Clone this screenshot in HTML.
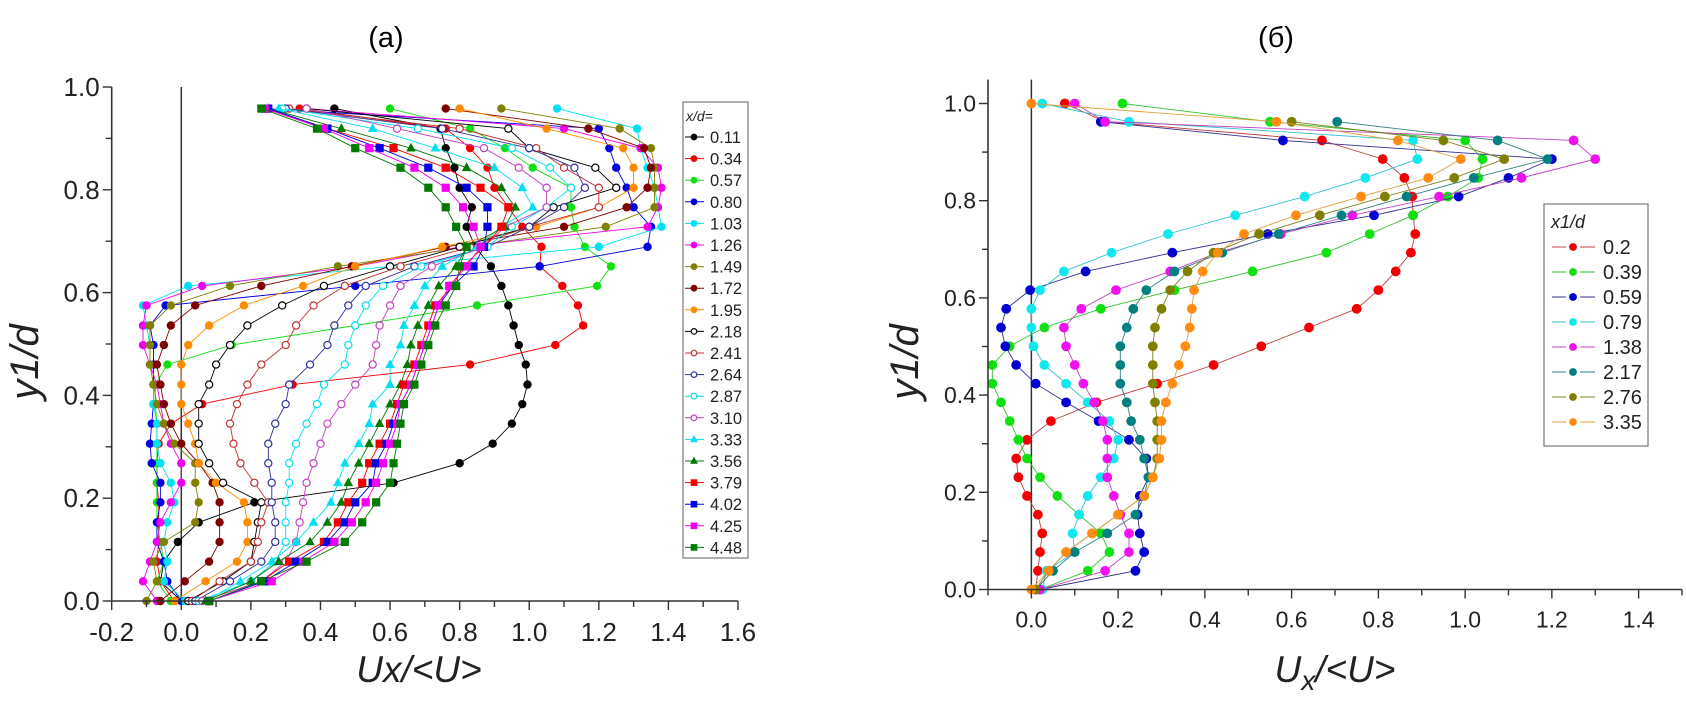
<!DOCTYPE html>
<html><head><meta charset="utf-8">
<style>
html,body{margin:0;padding:0;background:#fff;}
svg{display:block;font-family:"Liberation Sans","DejaVu Sans",sans-serif;}
</style></head>
<body>
<svg id="fig" width="1686" height="703" viewBox="0 0 1686 703" xmlns="http://www.w3.org/2000/svg">
<rect width="1686" height="703" fill="#fff"/>
<text x="386" y="47" font-size="29" text-anchor="middle">(a)</text>
<text x="1276" y="47" font-size="29" text-anchor="middle">(б)</text>
<g id="pa"></g>
<g id="pb"></g>
</svg>
<script>
// ---------- Chart A data ----------
const levelsA = [0,0.0383,0.0766,0.115,0.153,0.192,0.230,0.268,0.306,0.345,0.383,0.421,0.460,0.498,0.536,0.575,0.613,0.651,0.689,0.728,0.766,0.804,0.843,0.881,0.919,0.958];
const seriesNamesA = ["0.11","0.34","0.57","0.80","1.03","1.26","1.49","1.72","1.95","2.18","2.41","2.64","2.87","3.10","3.33","3.56","3.79","4.02","4.25","4.48"];
const s011 = [0.0,-0.06,-0.05,-0.01,0.05,0.21,0.61,0.80,0.895,0.95,0.98,0.995,0.99,0.97,0.955,0.94,0.92,0.89,0.845,0.82,0.835,0.80,0.785,0.76,0.745,0.44];
const s034 = [-0.02,-0.06,-0.07,-0.065,-0.065,-0.065,-0.07,-0.07,-0.065,-0.03,0.06,0.32,0.83,1.075,1.155,1.14,1.095,1.03,1.035,0.98,0.94,0.90,0.88,0.83,0.76,0.34];
const s057 = [-0.03,-0.07,-0.05,-0.06,-0.07,-0.07,-0.07,-0.07,-0.07,-0.07,-0.075,-0.075,-0.04,0.145,0.5,0.85,1.195,1.235,1.16,1.13,1.12,1.12,1.01,0.93,0.83,0.6];
const s080 = [0.0,-0.04,-0.05,-0.07,-0.07,-0.06,-0.06,-0.085,-0.09,-0.085,-0.08,-0.08,-0.08,-0.08,-0.09,-0.045,0.5,1.03,1.34,1.35,1.30,1.28,1.25,1.23,1.2,0.24];
const s103 = [0.01,-0.05,-0.04,-0.05,-0.04,-0.02,-0.03,-0.06,-0.07,-0.07,-0.08,-0.08,-0.09,-0.09,-0.1,-0.11,0.02,0.6,1.2,1.38,1.37,1.36,1.34,1.32,1.31,1.08];
const s126 = [-0.07,-0.11,-0.09,-0.07,-0.06,-0.03,0.0,0.0,-0.03,-0.05,-0.06,-0.07,-0.09,-0.11,-0.11,-0.1,0.06,0.5,0.8,1.34,1.37,1.38,1.37,1.32,1.1,0.36];
const s149 = [-0.1,-0.07,-0.08,-0.05,0.04,0.05,0.04,0.04,-0.02,-0.05,-0.07,-0.08,-0.09,-0.09,-0.09,-0.03,0.14,0.45,0.82,1.22,1.36,1.36,1.36,1.35,1.26,0.92];
const s172 = [-0.06,0.01,0.08,0.11,0.11,0.11,0.09,0.05,0.0,-0.03,-0.05,-0.06,-0.07,-0.05,-0.03,0.04,0.23,0.49,0.76,1.1,1.28,1.34,1.35,1.33,1.17,0.76];
const s195 = [-0.02,0.07,0.16,0.19,0.19,0.18,0.1,0.05,0.04,0.02,0.0,0.0,0.0,0.02,0.08,0.18,0.35,0.5,0.75,1.02,1.2,1.3,1.3,1.27,1.05,0.8];
const s218 = [0.02,0.12,0.2,0.21,0.22,0.23,0.12,0.08,0.05,0.05,0.05,0.08,0.1,0.14,0.19,0.29,0.41,0.6,0.8,1.0,1.07,1.25,1.19,1.0,0.94,0.36];
const s241 = [0.03,0.11,0.2,0.22,0.23,0.25,0.21,0.17,0.15,0.14,0.16,0.19,0.23,0.3,0.33,0.38,0.47,0.63,0.83,1.0,1.2,1.2,1.1,1.02,0.8,0.31];
const s264 = [0.04,0.14,0.23,0.27,0.27,0.26,0.26,0.25,0.25,0.27,0.3,0.31,0.37,0.42,0.44,0.48,0.53,0.67,0.88,1.0,1.1,1.16,1.13,1.0,0.75,0.3];
const s287 = [0.05,0.2,0.27,0.3,0.3,0.3,0.31,0.31,0.33,0.36,0.39,0.41,0.47,0.48,0.5,0.53,0.58,0.69,0.88,0.95,1.05,1.12,1.06,0.95,0.68,0.29];
const s310 = [0.06,0.23,0.3,0.33,0.34,0.35,0.36,0.38,0.4,0.42,0.46,0.5,0.55,0.56,0.57,0.6,0.63,0.72,0.87,0.93,1.05,1.05,0.97,0.87,0.62,0.36];
const s333 = [0.07,0.17,0.26,0.33,0.38,0.43,0.45,0.47,0.51,0.54,0.55,0.6,0.6,0.63,0.64,0.67,0.7,0.75,0.85,0.92,1.01,0.98,0.9,0.73,0.55,0.28];
const s356 = [0.07,0.2,0.28,0.37,0.42,0.46,0.48,0.51,0.54,0.57,0.6,0.63,0.65,0.66,0.68,0.71,0.74,0.79,0.82,0.93,0.96,0.92,0.82,0.66,0.46,0.25];
const s379 = [0.08,0.23,0.31,0.41,0.45,0.48,0.52,0.54,0.57,0.6,0.62,0.64,0.67,0.69,0.71,0.73,0.78,0.81,0.87,0.92,0.94,0.86,0.76,0.61,0.42,0.24];
const s402 = [0.08,0.24,0.33,0.42,0.47,0.5,0.55,0.56,0.59,0.61,0.63,0.66,0.68,0.7,0.72,0.74,0.78,0.84,0.87,0.88,0.88,0.82,0.71,0.57,0.42,0.25];
const s425 = [0.08,0.26,0.35,0.44,0.49,0.53,0.56,0.58,0.6,0.62,0.63,0.66,0.68,0.7,0.72,0.74,0.77,0.82,0.86,0.84,0.81,0.76,0.67,0.54,0.41,0.24];
const s448 = [0.08,0.23,0.36,0.47,0.52,0.56,0.6,0.61,0.62,0.63,0.64,0.67,0.69,0.71,0.73,0.76,0.79,0.8,0.82,0.79,0.76,0.71,0.63,0.5,0.39,0.23];
const xTicksA = ["-0.2","0.0","0.2","0.4","0.6","0.8","1.0","1.2","1.4","1.6"];
const yTicksA = ["0.0","0.2","0.4","0.6","0.8","1.0"];

// ---------- Chart B data ----------
const levelsB = [0,0.0385,0.077,0.1155,0.154,0.1925,0.231,0.2695,0.308,0.3465,0.385,0.4235,0.462,0.5005,0.539,0.5775,0.616,0.6545,0.693,0.7315,0.770,0.8085,0.847,0.8855,0.924,0.9625,1.0];
const seriesNamesB = ["0.2","0.39","0.59","0.79","1.38","2.17","2.76","3.35"];
const b020 = [0.01,0.015,0.02,0.025,0.015,-0.01,-0.03,-0.035,-0.01,0.045,0.15,0.29,0.42,0.53,0.64,0.75,0.8,0.84,0.875,0.885,0.88,0.878,0.86,0.81,0.67,0.17,0.077];
const b039 = [0.02,0.13,0.18,0.16,0.11,0.06,0.02,-0.01,-0.03,-0.05,-0.07,-0.09,-0.09,-0.05,0.03,0.16,0.33,0.51,0.68,0.78,0.88,0.96,1.03,1.04,1.0,0.55,0.21];
const b059 = [0.02,0.24,0.26,0.25,0.245,0.25,0.27,0.265,0.225,0.155,0.08,0.01,-0.035,-0.06,-0.07,-0.058,-0.003,0.125,0.325,0.545,0.79,0.985,1.1,1.2,0.58,0.16,null];
const b079 = [0.025,0.035,0.1,0.095,0.11,0.13,0.16,0.19,0.2,0.18,0.13,0.08,0.03,0.005,0.0,0.0,0.02,0.075,0.185,0.315,0.47,0.63,0.77,0.89,0.88,0.225,0.025];
const b138 = [0.02,0.17,0.225,0.225,0.205,0.19,0.175,0.175,0.175,0.165,0.145,0.12,0.1,0.08,0.075,0.115,0.195,0.32,0.43,0.575,0.74,0.94,1.13,1.3,1.25,0.17,0.1];
const b217 = [0.01,0.05,0.1,0.175,0.24,0.26,0.27,0.26,0.25,0.23,0.22,0.205,0.205,0.205,0.22,0.235,0.265,0.33,0.44,0.57,0.715,0.865,1.02,1.19,1.075,0.705,null];
const b276 = [0.01,0.04,0.08,0.14,0.2,0.26,0.28,0.29,0.29,0.29,0.285,0.28,0.28,0.28,0.285,0.3,0.32,0.36,0.42,0.525,0.665,0.815,0.975,1.09,0.95,0.6,null];
const b335 = [0.0,0.04,0.08,0.14,0.2,0.26,0.28,0.295,0.3,0.3,0.31,0.325,0.34,0.355,0.365,0.37,0.375,0.395,0.43,0.49,0.61,0.76,0.915,0.99,0.845,0.565,0.0];
const xTicksB = ["0.0","0.2","0.4","0.6","0.8","1.0","1.2","1.4"];
const yTicksB = ["0.0","0.2","0.4","0.6","0.8","1.0"];

const NS = "http://www.w3.org/2000/svg";
function mk(tag, parent, attrs){const e=document.createElementNS(NS,tag);for(const k in attrs)e.setAttribute(k,attrs[k]);parent.appendChild(e);return e;}

function drawMarker(g, shape, color, filled, cx, cy, r){
  let m;
  const fill = filled ? color : "#fff";
  if(shape==="circle"){m=mk("circle",g,{cx:cx,cy:cy,r:r,fill:fill,stroke:color,"stroke-width":1.2});}
  else if(shape==="square"){m=mk("rect",g,{x:cx-r,y:cy-r,width:2*r,height:2*r,fill:fill,stroke:color,"stroke-width":1});}
  else {m=mk("polygon",g,{points:(cx)+","+(cy-r*1.2)+" "+(cx-r*1.1)+","+(cy+r*0.8)+" "+(cx+r*1.1)+","+(cy+r*0.8),fill:fill,stroke:color,"stroke-width":1});}
  
  
}

// ---------- Chart A ----------
(function(){
  const g=document.getElementById('pa');
  const X0=111.7, X1=738, xmin=-0.2, xmax=1.6, Y0=601, Y1=87;
  const sx=v=>X0+(v-xmin)/(xmax-xmin)*(X1-X0);
  const sy=v=>Y0-v*(Y0-Y1);
  const data=[s011,s034,s057,s080,s103,s126,s149,s172,s195,s218,s241,s264,s287,s310,s333,s356,s379,s402,s425,s448];
  const colors=["#000","#f00000","#10e010","#0000e0","#00e0f0","#f000f0","#808000","#800000","#ff8c00","#000","#c03030","#3030a0","#00e0f0","#c040c0","#00e0f0","#007a00","#f00000","#0000e0","#f000f0","#007a00"];
  const shapes=["circle","circle","circle","circle","circle","circle","circle","circle","circle","circle","circle","circle","circle","circle","tri","tri","square","square","square","square"];
  const filled=[1,1,1,1,1,1,1,1,1,0,0,0,0,0,1,1,1,1,1,1];
  // zero line
  const zl=mk("line",g,{x1:sx(0),x2:sx(0),y1:Y1,y2:Y0,stroke:"#333","stroke-width":1.5});
   
  data.forEach((arr,i)=>{
    const sg=mk("g",g,{});
    
    
    const pts=arr.map((v,k)=>sx(v).toFixed(1)+","+sy(levelsA[k]).toFixed(1)).join(" ");
    const pl=mk("polyline",sg,{points:pts,fill:"none",stroke:colors[i],"stroke-width":0.9});
    
    
    arr.forEach((v,k)=>drawMarker(sg,shapes[i],colors[i],filled[i],sx(v),sy(levelsA[k]),3.6));
  });
  // axes
  const ax=mk("g",g,{});
   
  mk("line",ax,{x1:X0,x2:X1,y1:Y0,y2:Y0,stroke:"#333","stroke-width":1.6});
  mk("line",ax,{x1:X0,x2:X0,y1:Y1,y2:Y0,stroke:"#333","stroke-width":1.6});
  for(let i=0;i<=18;i++){const v=xmin+i*0.1;mk("line",ax,{x1:sx(v),x2:sx(v),y1:Y0,y2:Y0+(i%2===0?9:6),stroke:"#333","stroke-width":1.4});}
  xTicksA.forEach((t,i)=>{const tx=mk("text",ax,{x:sx(-0.2+i*0.2),y:Y0+40,"font-size":26,"text-anchor":"middle",fill:"#222"});tx.textContent=t;
     });
  for(let i=0;i<=10;i++){mk("line",ax,{x1:X0,x2:X0-(i%2===0?9:6),y1:sy(i*0.1),y2:sy(i*0.1),stroke:"#333","stroke-width":1.4});}
  yTicksA.forEach((t,i)=>{const tx=mk("text",ax,{x:X0-12,y:sy(i*0.2)+9,"font-size":26,"text-anchor":"end",fill:"#222"});tx.textContent=t;
     });
  const xt=mk("text",g,{x:419,y:682,"font-size":37,"font-style":"italic","text-anchor":"middle",fill:"#222"});xt.textContent="Ux/<U>";
   
  const yt=mk("text",g,{x:0,y:0,"font-size":40,"font-style":"italic","text-anchor":"middle",fill:"#222",transform:"translate(38,362) rotate(-90)"});yt.textContent="y1/d";
   
  // legend
  const lg=mk("g",g,{});
   
  mk("rect",lg,{x:683,y:102,width:65,height:456,fill:"#fff",stroke:"#777","stroke-width":1.2});
  const lt=mk("text",lg,{x:686,y:121,"font-size":14,"font-style":"italic",fill:"#222"});lt.textContent="x/d=";
  seriesNamesA.forEach((n,i)=>{
    const y=137+i*21.6;
    const e=mk("g",lg,{});
     
    mk("line",e,{x1:685,x2:704,y1:y,y2:y,stroke:colors[i],"stroke-width":1});
    drawMarker(e,shapes[i],colors[i],filled[i],694,y,2.8);
    const t=mk("text",e,{x:710,y:y+6,"font-size":16.5,fill:"#222"});t.textContent=n;
  });
})();

// ---------- Chart B ----------
(function(){
  const g=document.getElementById('pb');
  const X0=988, X1=1682, xmin=-0.1, xmax=1.5, Y0=589.5, Ytop=79.6, Yone=103.5;
  const sx=v=>X0+(v-xmin)/(xmax-xmin)*(X1-X0);
  const sy=v=>Y0-v*(Y0-Yone);
  const data=[b020,b039,b059,b079,b138,b217,b276,b335];
  const colors=["#f00000","#10e010","#0000d0","#10e8f0","#f010f0","#008080","#808000","#ff8c10"];
  const lineColors=["#c04040","#30c030","#303090","#30c0d0","#c040c0","#308080","#808020","#e0a040"];
  const zl=mk("line",g,{x1:sx(0),x2:sx(0),y1:Ytop,y2:Y0,stroke:"#333","stroke-width":1.5});
   
  data.forEach((arr,i)=>{
    const sg=mk("g",g,{});
    
    
    const pts=[];arr.forEach((v,k)=>{if(v!==null)pts.push(sx(v).toFixed(1)+","+sy(levelsB[k]).toFixed(1));});
    const pl=mk("polyline",sg,{points:pts.join(" "),fill:"none",stroke:lineColors[i],"stroke-width":0.9});
    
    
    arr.forEach((v,k)=>{if(v!==null)drawMarker(sg,"circle",colors[i],1,sx(v),sy(levelsB[k]),4.3);});
  });
  const ax=mk("g",g,{});
   
  mk("line",ax,{x1:X0,x2:X1,y1:Y0,y2:Y0,stroke:"#333","stroke-width":1.6});
  mk("line",ax,{x1:X0,x2:X0,y1:Ytop,y2:Y0,stroke:"#333","stroke-width":1.6});
  for(let i=0;i<=16;i++){const v=xmin+i*0.1;mk("line",ax,{x1:sx(v),x2:sx(v),y1:Y0,y2:Y0+(i%2===1?9:6),stroke:"#333","stroke-width":1.4});}
  xTicksB.forEach((t,i)=>{const tx=mk("text",ax,{x:sx(i*0.2),y:Y0+38,"font-size":23,"text-anchor":"middle",fill:"#222"});tx.textContent=t;
     });
  for(let i=0;i<=10;i++){mk("line",ax,{x1:X0,x2:X0-(i%2===0?9:6),y1:sy(i*0.1),y2:sy(i*0.1),stroke:"#333","stroke-width":1.4});}
  yTicksB.forEach((t,i)=>{const tx=mk("text",ax,{x:X0-12,y:sy(i*0.2)+8,"font-size":23,"text-anchor":"end",fill:"#222"});tx.textContent=t;
     });
  const xt=mk("text",g,{x:1335,y:682,"font-size":37,"font-style":"italic","text-anchor":"middle",fill:"#222"});
   
  xt.innerHTML='U<tspan font-size="28" dy="8">x</tspan><tspan dy="-8">/&lt;U&gt;</tspan>';
  const yt=mk("text",g,{x:0,y:0,"font-size":40,"font-style":"italic","text-anchor":"middle",fill:"#222",transform:"translate(918,362) rotate(-90)"});yt.textContent="y1/d";
   
  const lg=mk("g",g,{});
   
  mk("rect",lg,{x:1544,y:204,width:104,height:242,fill:"#fff",stroke:"#777","stroke-width":1.2});
  const lt=mk("text",lg,{x:1551,y:228,"font-size":18,"font-style":"italic",fill:"#222"});lt.textContent="x1/d";
  seriesNamesB.forEach((n,i)=>{
    const y=247+i*25;
    const e=mk("g",lg,{});
     
    mk("line",e,{x1:1552,x2:1566,y1:y,y2:y,stroke:lineColors[i],"stroke-width":1});
    mk("line",e,{x1:1580,x2:1595,y1:y,y2:y,stroke:lineColors[i],"stroke-width":1});
    drawMarker(e,"circle",colors[i],1,1573,y,3.3);
    const t=mk("text",e,{x:1603,y:y+7,"font-size":20,fill:"#222"});t.textContent=n;
  });
})();
</script>
</body></html>
